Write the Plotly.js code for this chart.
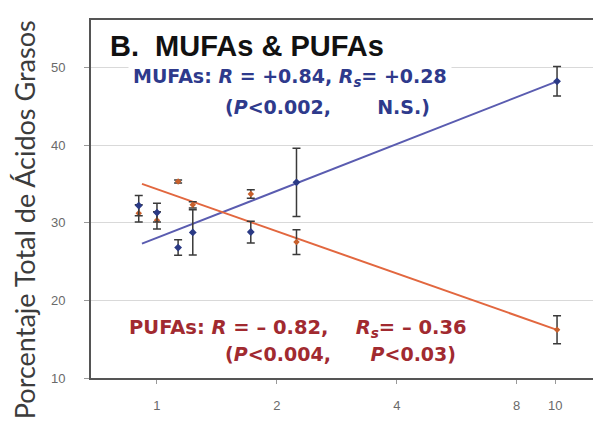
<!DOCTYPE html>
<html>
<head>
<meta charset="utf-8">
<script src="https://cdn.plot.ly/plotly-3.0.1.min.js"></script>
<style>html,body{margin:0;padding:0;background:#fff;}#chart{width:593px;height:425px;}</style>
</head>
<body>
<div id="chart"></div>
<script>
// Data
const xValues   = [0.9, 1.0, 1.13, 1.23, 1.72, 2.24, 10.1];
const mufa      = [32.2, 31.3, 26.8, 28.75, 28.8, 35.2, 48.2];
const mufaErr   = [1.3, 1.2, 1.0, 2.9, 1.4, 4.4, 1.9];
const pufa      = [31.2, 30.3, 35.3, 32.3, 33.7, 27.5, 16.2];
const pufaErr   = [1.1, 1.1, 0.2, 0.4, 0.55, 1.6, 1.8];
const fitX      = [0.917, 10.1];
const mufaFit   = [27.3, 48.2];
const pufaFit   = [35.0, 16.2];
const xTickVals = [1, 2, 4, 8, 10];
const xTickText = ['1', '2', '4', '8', '10'];
const yTickVals = [10, 20, 30, 40, 50];

const NB = '\u00A0';
const traces = [
  {x: fitX, y: mufaFit, mode: 'lines', line: {color: '#5a5cb0', width: 2}, hoverinfo: 'skip', showlegend: false},
  {x: fitX, y: pufaFit, mode: 'lines', line: {color: '#e2673f', width: 2}, hoverinfo: 'skip', showlegend: false},
  {x: xValues, y: pufa, mode: 'markers', name: 'PUFAs',
   marker: {color: '#c8602c', size: 5, symbol: 'diamond'},
   error_y: {type: 'data', array: pufaErr, visible: true, color: '#3a3a3a', thickness: 1.5, width: 4},
   showlegend: false},
  {x: xValues, y: mufa, mode: 'markers', name: 'MUFAs',
   marker: {color: '#2b3a85', size: 6, symbol: 'diamond'},
   error_y: {type: 'data', array: mufaErr, visible: true, color: '#3a3a3a', thickness: 1.5, width: 4},
   showlegend: false}
];

const blue = '#2e3a8c', red = '#a12a30';
const annFont = {family: 'DejaVu Sans, sans-serif', size: 19};
const layout = {
  width: 593, height: 425,
  margin: {l: 91, r: 0, t: 20, b: 47},
  paper_bgcolor: '#fff', plot_bgcolor: '#fff',
  showlegend: false,
  font: {family: 'Liberation Sans, Arial, sans-serif', color: '#666', size: 13},
  xaxis: {
    type: 'log', range: [-0.1656, 1.0946],
    tickvals: xTickVals, ticktext: xTickText,
    showgrid: false, zeroline: false,
    showline: true, mirror: true, linecolor: '#555', linewidth: 2,
    ticks: 'outside', ticklen: 4, tickcolor: '#999', tickwidth: 1,
    ticklabelstandoff: 10,
    tickfont: {size: 13, color: '#6a6a6a'}
  },
  yaxis: {
    range: [10, 56.1],
    tickvals: yTickVals,
    showgrid: true, gridcolor: '#d9d9d9', gridwidth: 1, zeroline: false,
    showline: true, mirror: false, linecolor: '#555', linewidth: 2,
    ticks: 'outside', ticklen: 5, tickcolor: '#999', tickwidth: 1,
    ticklabelstandoff: 16,
    tickfont: {size: 13, color: '#6a6a6a'}
  },
  annotations: [
    {xref: 'paper', yref: 'paper', x: -0.1335, y: 0.4437, xanchor: 'center', yanchor: 'middle',
     textangle: -90, showarrow: false, text: 'Porcentaje Total de Ácidos Grasos',
     font: {family: 'Lato, sans-serif', size: 27, color: '#3c3c3c'}},
    {xref: 'paper', yref: 'paper', x: 0.034, y: 0.927, xanchor: 'left', yanchor: 'middle',
     showarrow: false, text: '<b>B.' + NB + NB + 'MUFAs & PUFAs</b>',
     font: {family: 'Liberation Sans, Arial, sans-serif', size: 29, color: '#111'}},
    {xref: 'paper', yref: 'paper', x: 0.3964, y: 0.8406, xanchor: 'center', yanchor: 'middle',
     showarrow: false, bgcolor: '#fff', borderpad: 4,
     text: '<b>MUFAs: <i>R</i>' + NB + '=' + NB + '+0.84,' + NB + '<i>R<sub>s</sub></i>=' + NB + '+0.28</b>',
     font: Object.assign({}, annFont, {color: blue})},
    {xref: 'paper', yref: 'paper', x: 0.4711, y: 0.7568, xanchor: 'center', yanchor: 'middle',
     showarrow: false,
     text: '<b>(<i>P</i><0.002,' + NB.repeat(7) + 'N.S.)</b>',
     font: Object.assign({}, annFont, {color: blue})},
    {xref: 'paper', yref: 'paper', x: 0.4114, y: 0.1375, xanchor: 'center', yanchor: 'middle',
     showarrow: false,
     text: '<b>PUFAs: <i>R</i>' + NB + '=' + NB + '–' + NB + '0.82,' + NB.repeat(4) + '<i>R<sub>s</sub></i>=' + NB + '–' + NB + '0.36</b>',
     font: Object.assign({}, annFont, {size: 19.5, color: red})},
    {xref: 'paper', yref: 'paper', x: 0.498, y: 0.0677, xanchor: 'center', yanchor: 'middle',
     showarrow: false,
     text: '<b>(<i>P</i><0.004,' + NB.repeat(6) + '<i>P</i><0.03)</b>',
     font: Object.assign({}, annFont, {color: red})}
  ]
};

Plotly.newPlot('chart', traces, layout, {displayModeBar: false, staticPlot: true});
</script>
</body>
</html>
